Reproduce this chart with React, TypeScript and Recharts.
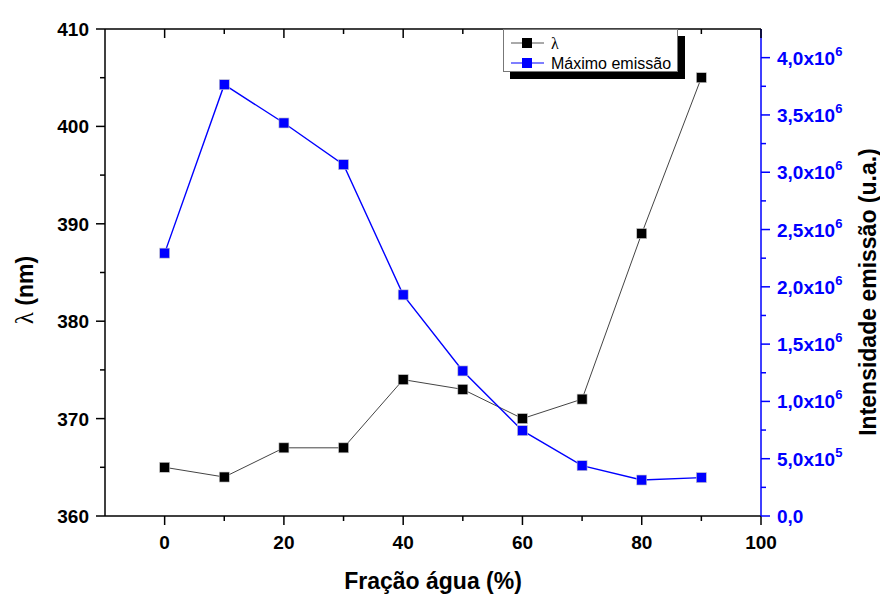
import React from "react";
import { ComposedChart, Line, XAxis, YAxis } from "recharts";

const fracao = [0, 10, 20, 30, 40, 50, 60, 70, 80, 90];
const lambda = [365, 364, 367, 367, 374, 373, 370, 372, 389, 405];
const intensidade = [2.294e6, 3.764e6, 3.43e6, 3.066e6, 1.93e6, 1.266e6, 0.745e6, 0.439e6, 0.314e6, 0.335e6];

const xTicks = [0, 10, 20, 30, 40, 50, 60, 70, 80, 90, 100];
const leftTicks = [360, 365, 370, 375, 380, 385, 390, 395, 400, 405, 410];
const rightTicks = [0, 0.25e6, 0.5e6, 0.75e6, 1e6, 1.25e6, 1.5e6, 1.75e6, 2e6, 2.25e6, 2.5e6, 2.75e6, 3e6, 3.25e6, 3.5e6, 3.75e6, 4e6];

const data = fracao.map((x, i) => ({ x, lambda: lambda[i], intensidade: intensidade[i] }));

const FONT = "'Liberation Sans', Arial, sans-serif";
const SERIF = "'Liberation Serif', 'DejaVu Serif', serif";
const BLUE = "#0000ff";
const TICK_FS = 19;
const TITLE_FS = 23;

const BottomTick = ({ x, y, payload }: any) => {
  const major = payload.value % 20 === 0;
  return (
    <g>
      <line x1={x} x2={x} y1={y} y2={y + (major ? 9 : 5)} stroke="#000" strokeWidth={1.5} />
      {major && (
        <text x={x} y={y + 33} textAnchor="middle" fontFamily={FONT} fontWeight="bold" fontSize={TICK_FS} fill="#000">
          {payload.value}
        </text>
      )}
    </g>
  );
};

const TopTick = ({ x, y, payload }: any) => {
  const major = payload.value % 20 === 0;
  return <line x1={x} x2={x} y1={y} y2={y + (major ? 9 : 5)} stroke="#000" strokeWidth={1.5} />;
};

const LeftTick = ({ x, y, payload }: any) => {
  const major = payload.value % 10 === 0;
  return (
    <g>
      <line x1={x} x2={x - (major ? 9 : 5)} y1={y} y2={y} stroke="#000" strokeWidth={1.5} />
      {major && (
        <text x={x - 16} y={y + 7} textAnchor="end" fontFamily={FONT} fontWeight="bold" fontSize={TICK_FS} fill="#000">
          {payload.value}
        </text>
      )}
    </g>
  );
};

const fmtRight = (v: number) => {
  if (v === 0) return { mant: "0,0", exp: "" };
  const exp = Math.floor(Math.log10(v) + 1e-9);
  const mant = (v / Math.pow(10, exp)).toFixed(1).replace(".", ",");
  return { mant: mant + "x10", exp: String(exp) };
};

const RightTick = ({ x, y, payload }: any) => {
  const major = Math.round(payload.value / 0.25e6) % 2 === 0;
  const { mant, exp } = fmtRight(payload.value);
  return (
    <g>
      <line x1={x} x2={x + (major ? 9 : 5)} y1={y} y2={y} stroke={BLUE} strokeWidth={1.5} />
      {major && (
        <text x={x + 16} y={y + 7} textAnchor="start" fontFamily={FONT} fontWeight="bold" fontSize={TICK_FS} fill={BLUE}>
          {mant}
          {exp && (
            <tspan dy={-9} fontSize={13}>
              {exp}
            </tspan>
          )}
        </text>
      )}
    </g>
  );
};

const Square = (fill: string) => (props: any) => {
  const { cx, cy, index } = props;
  if (cx == null || cy == null) return null;
  return <rect key={index} x={cx - 5} y={cy - 5} width={10} height={10} fill={fill} stroke="#c8c8c8" strokeWidth={0.6} />;
};

const LegendBox = () => (
  <div style={{ position: "absolute", left: 503, top: 29, width: 182, height: 50 }}>
    <div style={{ position: "absolute", left: 7, top: 7, width: 175, height: 43, background: "#000" }} />
    <div
      style={{
        position: "absolute",
        left: 0,
        top: 0,
        width: 173,
        height: 41,
        background: "#fff",
        border: "1px solid #777",
      }}
    >
      <svg width={173} height={41} style={{ position: "absolute", left: 0, top: 0 }}>
        <line x1={7} x2={40} y1={13} y2={13} stroke="#555" strokeWidth={1} />
        <rect x={18} y={8} width={10} height={10} fill="#000" />
        <text x={47} y={19} fontFamily={SERIF} fontSize={16} fill="#000">λ</text>
        <line x1={7} x2={40} y1={33} y2={33} stroke={BLUE} strokeWidth={1.2} />
        <rect x={18} y={28} width={10} height={10} fill={BLUE} />
        <text x={47} y={39} fontFamily={FONT} fontSize={16} fill="#000">Máximo emissão</text>
      </svg>
    </div>
  </div>
);

export default function App() {
  return (
    <div style={{ position: "fixed", left: 0, top: 0, width: 880, height: 595, background: "#fff", overflow: "hidden" }}>
      <ComposedChart width={880} height={595} data={data} margin={{ top: 0, right: 59, bottom: 39, left: 45 }}>
        <XAxis
          xAxisId="bottom"
          dataKey="x"
          type="number"
          domain={[-10, 100]}
          ticks={xTicks}
          interval={0}
          tickSize={0}
          tickMargin={0}
          tick={<BottomTick />}
          axisLine={{ stroke: "#000", strokeWidth: 1.5 }}
          height={40}
          label={{
            content: () => (
              <text x={433} y={589} textAnchor="middle" fontFamily={FONT} fontWeight="bold" fontSize={TITLE_FS} fill="#000">
                Fração água (%)
              </text>
            ),
          }}
        />
        <XAxis
          xAxisId="top"
          orientation="top"
          dataKey="x"
          type="number"
          domain={[-10, 100]}
          ticks={xTicks}
          interval={0}
          tickSize={0}
          tickMargin={0}
          tick={<TopTick />}
          axisLine={{ stroke: "#000", strokeWidth: 1.5 }}
          height={29}
        />
        <YAxis
          yAxisId="left"
          type="number"
          domain={[360, 410]}
          ticks={leftTicks}
          interval={0}
          tickSize={0}
          tickMargin={0}
          tick={<LeftTick />}
          axisLine={{ stroke: "#000", strokeWidth: 1.5 }}
          width={60}
          label={{
            content: () => (
              <text
                x={33}
                y={290}
                transform="rotate(-90 33 290)"
                textAnchor="middle"
                fontFamily={FONT}
                fontWeight="bold"
                fontSize={TITLE_FS}
                fill="#000"
              >
                <tspan fontFamily={SERIF} fontWeight="normal" fontSize={25}>λ</tspan> (nm)
              </text>
            ),
          }}
        />
        <YAxis
          yAxisId="right"
          orientation="right"
          type="number"
          domain={[0, 4.25e6]}
          ticks={rightTicks}
          interval={0}
          tickSize={0}
          tickMargin={0}
          tick={<RightTick />}
          axisLine={{ stroke: BLUE, strokeWidth: 1.5 }}
          width={60}
          label={{
            content: () => (
              <text
                x={876}
                y={292}
                transform="rotate(-90 876 292)"
                textAnchor="middle"
                fontFamily={FONT}
                fontWeight="bold"
                fontSize={TITLE_FS}
                fill="#000"
              >
                Intensidade emissão (u.a.)
              </text>
            ),
          }}
        />
        <Line
          xAxisId="bottom"
          yAxisId="left"
          dataKey="lambda"
          stroke="#444"
          strokeWidth={1}
          dot={Square("#000")}
          activeDot={false}
          isAnimationActive={false}
        />
        <Line
          xAxisId="bottom"
          yAxisId="right"
          dataKey="intensidade"
          stroke={BLUE}
          strokeWidth={1.4}
          dot={Square(BLUE)}
          activeDot={false}
          isAnimationActive={false}
        />
      </ComposedChart>
      <LegendBox />
    </div>
  );
}
